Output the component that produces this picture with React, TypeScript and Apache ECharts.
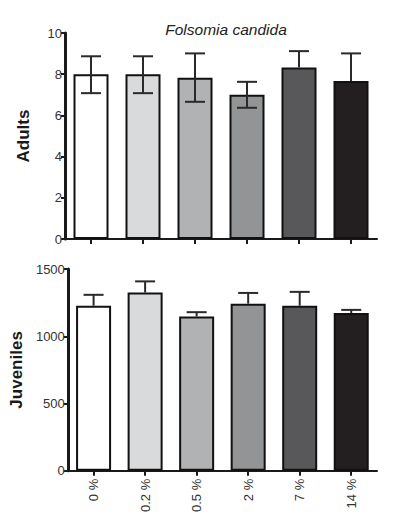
import React, { useEffect, useRef } from "react";
import * as echarts from "echarts";

const categories = ["0 %", "0.2 %", "0.5 %", "2 %", "7 %", "14 %"];
const barColors = ["#ffffff", "#d9dadc", "#b1b2b4", "#939496", "#58585a", "#231f20"];

const adultsMean = [8.0, 8.0, 7.83, 7.0, 8.33, 7.67];
const adultsHigh = [8.87, 8.87, 9.01, 7.63, 9.12, 9.01];
const adultsLow: (number | null)[] = [7.08, 7.08, 6.66, 6.37, null, null];

const juvenilesMean = [1227, 1325, 1147, 1242, 1227, 1172];
const juvenilesHigh = [1308, 1408, 1179, 1322, 1330, 1196];

const adultsTicks = [0, 2, 4, 6, 8, 10];
const juvenilesTicks = [0, 500, 1000, 1500];

const FONT = "'Liberation Sans', Arial, sans-serif";

function errorSeries(
  name: string,
  axisIdx: number,
  high: number[],
  low: (number | null)[]
) {
  const data = categories.map((_, i) => [i, high[i], low[i] == null ? -1 : (low[i] as number)]);
  return {
    name,
    type: "custom",
    xAxisIndex: axisIdx,
    yAxisIndex: axisIdx,
    z: 5,
    data,
    renderItem: (params: any, api: any) => {
      const idx = api.value(0);
      const hi = api.value(1);
      const lo = api.value(2);
      const pHi = api.coord([idx, hi]);
      const children: any[] = [];
      const style = { stroke: "#2a2a2a", lineWidth: 2 };
      const half = 10;
      children.push({
        type: "line",
        shape: { x1: pHi[0] - half, y1: pHi[1], x2: pHi[0] + half, y2: pHi[1] },
        style,
      });
      let bottomY: number;
      if (lo >= 0) {
        const pLo = api.coord([idx, lo]);
        bottomY = pLo[1];
        children.push({
          type: "line",
          shape: { x1: pLo[0] - half, y1: pLo[1], x2: pLo[0] + half, y2: pLo[1] },
          style,
        });
      } else {
        const meanArr = axisIdx === 0 ? adultsMean : juvenilesMean;
        bottomY = api.coord([idx, meanArr[idx]])[1];
      }
      children.push({
        type: "line",
        shape: { x1: pHi[0], y1: pHi[1], x2: pHi[0], y2: bottomY },
        style,
      });
      return { type: "group", children };
    },
  };
}

export default function App() {
  const ref = useRef<HTMLDivElement>(null);
  useEffect(() => {
    if (!ref.current) return;
    const chart = echarts.init(ref.current, undefined, { renderer: "svg" });
    const yAxisCommon = {
      type: "value",
      nameLocation: "middle",
      nameRotate: 90,
      nameTextStyle: { fontFamily: FONT, fontSize: 17, fontWeight: "bold", color: "#1a1a1a" },
      axisLine: { show: true, lineStyle: { color: "#1a1a1a", width: 3 } },
      axisTick: { show: true, length: 4, lineStyle: { color: "#1a1a1a", width: 2 } },
      axisLabel: {
        fontFamily: FONT,
        fontSize: 13,
        color: "#333",
        margin: 3,
        formatter: (v: number) => String(v),
      },
      splitLine: { show: false },
    };
    const xAxisCommon = {
      type: "category",
      data: categories,
      axisLine: { show: true, lineStyle: { color: "#1a1a1a", width: 2 } },
      axisTick: { show: true, alignWithLabel: true, length: 5, lineStyle: { color: "#1a1a1a", width: 2 } },
    };
    chart.setOption({
      animation: false,
      backgroundColor: "#ffffff",
      title: {
        text: "Folsomia candida",
        left: 221,
        textAlign: "center",
        top: 16,
        textStyle: { fontFamily: FONT, fontSize: 15.5, fontStyle: "italic", fontWeight: "normal", color: "#222" },
      },
      grid: [
        { left: 65, right: 18, top: 33, height: 206 },
        { left: 65, right: 18, top: 269, height: 206 },
      ],
      xAxis: [
        { ...xAxisCommon, gridIndex: 0, axisLabel: { show: false } },
        {
          ...xAxisCommon,
          gridIndex: 1,
          axisLabel: { rotate: 90, fontFamily: FONT, fontSize: 13, color: "#333", margin: 8 },
        },
      ],
      yAxis: [
        {
          ...yAxisCommon,
          gridIndex: 0,
          name: "Adults",
          nameGap: 33,
          min: 0,
          max: adultsTicks[adultsTicks.length - 1],
          interval: adultsTicks[1] - adultsTicks[0],
        },
        {
          ...yAxisCommon,
          gridIndex: 1,
          name: "Juveniles",
          nameGap: 33,
          min: 0,
          max: juvenilesTicks[juvenilesTicks.length - 1],
          interval: juvenilesTicks[1] - juvenilesTicks[0],
        },
      ],
      series: [
        {
          type: "bar",
          xAxisIndex: 0,
          yAxisIndex: 0,
          barWidth: 35,
          data: adultsMean.map((v, i) => ({
            value: v,
            itemStyle: { color: barColors[i], borderColor: "#111", borderWidth: 2 },
          })),
        },
        errorSeries("adultsErr", 0, adultsHigh, adultsLow),
        {
          type: "bar",
          xAxisIndex: 1,
          yAxisIndex: 1,
          barWidth: 35,
          data: juvenilesMean.map((v, i) => ({
            value: v,
            itemStyle: { color: barColors[i], borderColor: "#111", borderWidth: 2 },
          })),
        },
        errorSeries("juvErr", 1, juvenilesHigh, juvenilesMean.map(() => null)),
      ],
    });
    return () => chart.dispose();
  }, []);
  return <div ref={ref} style={{ width: 395, height: 515, position: "absolute", left: 0, top: 0 }} />;
}
